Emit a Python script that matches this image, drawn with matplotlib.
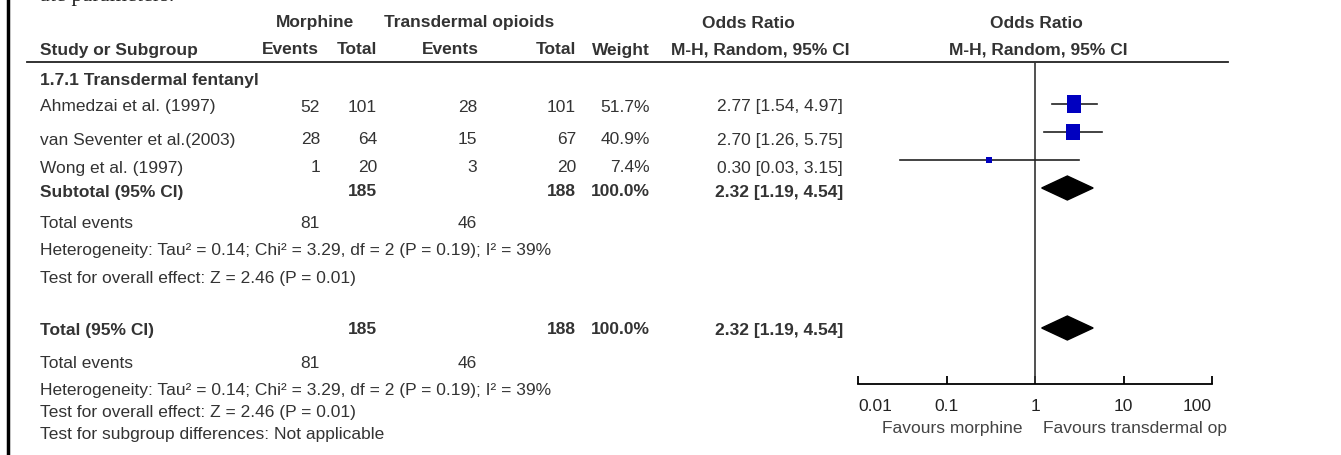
import numpy as np
import matplotlib.pyplot as plt
from matplotlib.patches import Polygon

plt.rcParams['font.family'] = ['Liberation Sans', 'DejaVu Sans']

# data
studies = ["Ahmedzai et al. (1997)", "van Seventer et al.(2003)", "Wong et al. (1997)"]
morph_events = [52, 28, 1]
morph_total = [101, 64, 20]
td_events = [28, 15, 3]
td_total = [101, 67, 20]
weights = [51.7, 40.9, 7.4]
or_est = [2.77, 2.70, 0.30]
ci_low = [1.54, 1.26, 0.03]
ci_high = [4.97, 5.75, 3.15]

pooled_or = 2.32
pooled_low = 1.19
pooled_high = 4.54
sum_morph_total = 185
sum_td_total = 188
sum_morph_events = 81
sum_td_events = 46

het_text = "Heterogeneity: Tau\u00b2 = 0.14; Chi\u00b2 = 3.29, df = 2 (P = 0.19); I\u00b2 = 39%"
effect_text = "Test for overall effect: Z = 2.46 (P = 0.01)"
subgroup_text = "Test for subgroup differences: Not applicable"
tick_vals = [0.01, 0.1, 1, 10, 100]
tick_labels = ["0.01", "0.1", "1", "10", "100"]

W, H = 1341, 455
TXT = '#333333'
FS = 12.5

fig = plt.figure(figsize=(W / 100, H / 100), dpi=100)
ax = fig.add_axes([0, 0, 1, 1])
ax.set_xlim(0, W)
ax.set_ylim(H, 0)
ax.axis('off')

# cut caption at the very top + left border
ax.text(40, 0.5, "ate parameters.", family='Liberation Serif', fontsize=16, color='#222222', va='baseline')
ax.plot([8, 8], [0, H], color='black', lw=2.5)

def t(x, y, s, ha='left', bold=False, **kw):
    ax.text(x, y, s, ha=ha, va='center', fontsize=FS, color=TXT,
            fontweight='bold' if bold else 'normal', **kw)

# headers
t(315, 23, "Morphine", 'center', True)
t(469, 23, "Transdermal opioids", 'center', True)
t(748, 23, "Odds Ratio", 'center', True)
t(1036, 23, "Odds Ratio", 'center', True)
t(40, 50, "Study or Subgroup", bold=True)
t(319, 50, "Events", 'right', True)
t(377, 50, "Total", 'right', True)
t(450, 50, "Events", 'center', True)
t(576, 50, "Total", 'right', True)
t(650, 50, "Weight", 'right', True)
t(760, 50, "M-H, Random, 95% CI", 'center', True)
t(1038, 50, "M-H, Random, 95% CI", 'center', True)
ax.plot([27, 1228], [62, 62], color='#222222', lw=1.3)

t(40, 80, "1.7.1 Transdermal fentanyl", bold=True)
text_rows = [107, 140, 168]
for i, name in enumerate(studies):
    y = text_rows[i]
    t(40, y, name)
    t(320, y, str(morph_events[i]), 'right')
    t(377, y, str(morph_total[i]), 'right')
    t(477, y, str(td_events[i]), 'right')
    t(576, y, str(td_total[i]), 'right')
    t(650, y, f"{weights[i]:.1f}%", 'right')
    t(843, y, f"{or_est[i]:.2f} [{ci_low[i]:.2f}, {ci_high[i]:.2f}]", 'right')

ci_str = f"{pooled_or:.2f} [{pooled_low:.2f}, {pooled_high:.2f}]"
for y, label in [(192, "Subtotal (95% CI)"), (330, "Total (95% CI)")]:
    t(40, y, label, bold=True)
    t(377, y, str(sum_morph_total), 'right', True)
    t(576, y, str(sum_td_total), 'right', True)
    t(650, y, f"{sum(weights):.1f}%", 'right', True)
    t(843, y, ci_str, 'right', True)

for y in [223, 363]:
    t(40, y, "Total events")
    t(320, y, str(sum_morph_events), 'right')
    t(477, y, str(sum_td_events), 'right')

t(40, 251, het_text)
t(40, 278, effect_text)
t(40, 390, het_text)
t(40, 413, effect_text)
t(40, 435, subgroup_text)

# forest part: log x axis mapped onto pixels 858..1212
x0, x1 = 858, 1212
fx = fig.add_axes([x0 / W, 0, (x1 - x0) / W, 1])
fx.set_xscale('log')
fx.set_xlim(tick_vals[0], tick_vals[-1])
fx.set_ylim(H, 0)
fx.patch.set_visible(False)
for s in ['top', 'left', 'right']:
    fx.spines[s].set_visible(False)
fx.spines['bottom'].set_position(('data', 384))
fx.spines['bottom'].set_linewidth(1.3)
fx.set_yticks([])
fx.set_xticks(tick_vals)
fx.set_xticklabels(tick_labels)
fx.minorticks_off()
fx.tick_params(axis='x', direction='in', length=5.5, width=1.3, pad=10.5, labelsize=FS, labelcolor='#222222')
labels = fx.get_xticklabels()
labels[0].set_horizontalalignment('left')
labels[-1].set_horizontalalignment('right')

fx.vlines(1, 62, 384, color='#333333', lw=1.2)

forest_rows = [104, 132, 160]
sq = [(-1, -1.2), (1, -1.2), (1, 1.2), (-1, 1.2), (-1, -1.2)]
for i in range(len(studies)):
    y = forest_rows[i]
    fx.plot([ci_low[i], ci_high[i]], [y, y], color='#222222', lw=1.2)
    fx.plot(or_est[i], y, marker=sq, markersize=1.8 * np.sqrt(weights[i]),
            color='#0000C0', mec='#0000C0', mew=0)

for yc in [188, 328]:
    d = Polygon([(pooled_low, yc), (pooled_or, yc - 12), (pooled_high, yc), (pooled_or, yc + 12)],
                closed=True, color='black')
    fx.add_patch(d)

fig.text(1022 / W, 1 - 429 / H, "Favours morphine", ha='right', va='center', fontsize=FS, color='#444444')
fig.text(1043 / W, 1 - 429 / H, "Favours transdermal op", ha='left', va='center', fontsize=FS, color='#444444')

fig.savefig('out.png', dpi=100)
